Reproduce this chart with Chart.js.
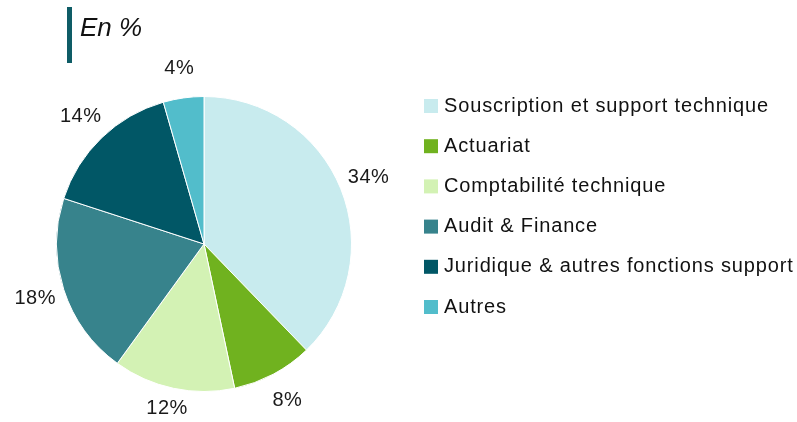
<!DOCTYPE html>
<html>
<head>
<meta charset="utf-8">
<script src="https://cdn.jsdelivr.net/npm/chart.js@4.4.1/dist/chart.umd.min.js"></script>
<style>
  html, body { margin: 0; padding: 0; background: #fff; }
  #wrap { position: relative; width: 797px; height: 422px; }
  #bar { position: absolute; left: 67px; top: 7px; width: 5px; height: 56px; background: #0e5c66; }
  #title { position: absolute; left: 80px; top: 12px; font: italic 26px "Liberation Sans", Arial, sans-serif; color: #111; }
</style>
</head>
<body>
<div id="wrap">
  <div id="bar"></div>
  <div id="title">En %</div>
  <canvas id="pie" width="797" height="422"></canvas>
</div>
<script>
const categories = [
  "Souscription et support technique",
  "Actuariat",
  "Comptabilité technique",
  "Audit & Finance",
  "Juridique & autres fonctions support",
  "Autres"
];
const values = [34, 8, 12, 18, 14, 4];
const valueLabels = ["34%", "8%", "12%", "18%", "14%", "4%"];
const colors = ["#c8ebee", "#70b21f", "#d3f2b4", "#37838c", "#015766", "#52bdcb"];

const FONT = '"Liberation Sans", Arial, sans-serif';

// percentage labels outside each slice, kept inside the canvas
const outsideLabels = {
  id: "outsideLabels",
  afterDatasetsDraw(chart) {
    const ctx = chart.ctx;
    const meta = chart.getDatasetMeta(0);
    ctx.save();
    ctx.font = "20px " + FONT;
    ctx.letterSpacing = "0.5px";
    ctx.fillStyle = "#1a1a1a";
    ctx.textAlign = "center";
    ctx.textBaseline = "middle";
    meta.data.forEach((arc, i) => {
      const mid = (arc.startAngle + arc.endAngle) / 2;
      const d = arc.outerRadius + 30;
      const x = arc.x + Math.cos(mid) * d;
      let y = arc.y + Math.sin(mid) * d;
      y = Math.min(y, chart.height - 14);
      ctx.fillText(valueLabels[i], x, y);
    });
    ctx.restore();
  }
};

// legend on the right
const sideLegend = {
  id: "sideLegend",
  afterDraw(chart) {
    const ctx = chart.ctx;
    const ds = chart.data.datasets[0];
    ctx.save();
    ctx.font = "20px " + FONT;
    ctx.letterSpacing = "0.85px";
    ctx.textBaseline = "middle";
    chart.data.labels.forEach((lab, i) => {
      const y = 106 + i * 40.2;
      ctx.fillStyle = ds.backgroundColor[i];
      ctx.fillRect(424, y - 7, 14, 14);
      ctx.fillStyle = "#111";
      ctx.fillText(lab, 444, y);
    });
    ctx.restore();
  }
};

new Chart(document.getElementById("pie"), {
  type: "pie",
  data: {
    labels: categories,
    datasets: [{
      data: values,
      backgroundColor: colors,
      borderColor: "#ffffff",
      borderWidth: 1
    }]
  },
  options: {
    responsive: false,
    animation: false,
    layout: { padding: { left: 56, right: 445, top: 96, bottom: 30 } },
    plugins: {
      legend: { display: false },
      tooltip: { enabled: false }
    }
  },
  plugins: [outsideLabels, sideLegend]
});
</script>
</body>
</html>
